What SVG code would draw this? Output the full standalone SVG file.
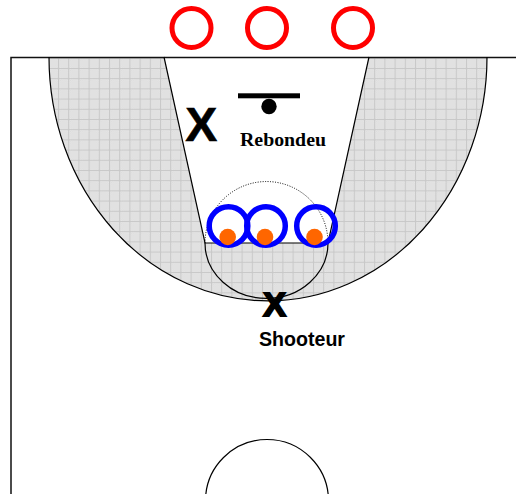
<svg xmlns="http://www.w3.org/2000/svg" width="516" height="494" viewBox="0 0 516 494">
<style>
.line{fill:none;stroke:#000;stroke-width:1.2}
.edge{fill:none;stroke:#111;stroke-width:1.500}
.red{fill:none;stroke:#f00;stroke-width:5}
.blue{fill:none;stroke:#00f;stroke-width:5.500}
.ball{fill:#f60}
.x{font-family:"Liberation Sans",Arial,sans-serif;font-weight:bold;fill:#000}
</style>
<defs>
<pattern id="fine" x="0" y="0" width="2" height="2" patternUnits="userSpaceOnUse">
<rect width="2" height="2" fill="#e6e6e6"/><rect width="1" height="1" fill="#dcdcdc"/><rect x="1" y="1" width="1" height="1" fill="#dcdcdc"/>
</pattern>
<pattern id="hatch" x="58" y="68" width="10.2" height="10.2" patternUnits="userSpaceOnUse">
<rect width="10.2" height="10.2" fill="url(#fine)"/>
<path d="M0.5 0V10.2M0 0.5H10.2" stroke="#c8c8c8" stroke-width="1" fill="none"/>
</pattern>
</defs>
<g id="court">
<rect width="516" height="494" fill="#fff"/>
<path d="M49 57A219 244 0 0 0 487 57H369L328 243H205L164 57Z" fill="url(#hatch)"/>
<path d="M11 494V57.500H516" class="edge"/>
<path d="M49 57A219 244 0 0 0 487 57" class="line"/>
<path d="M164 57L205 243H328L369 57" class="line"/>
<path d="M205 243A61 55 0 0 0 328 243" class="line"/>
<path d="M205 243A61 61 0 0 1 328 243" fill="none" stroke="#000" stroke-width="1" stroke-dasharray="1 1.500"/>
<circle cx="267" cy="501" r="61.500" class="line"/>
</g>
<g id="basket">
<rect x="238" y="93.300" width="62" height="5" fill="#000"/>
<circle cx="269" cy="106.500" r="7.700" fill="#000"/>
</g>
<g id="red-1"><circle cx="191.500" cy="28" r="19.500" class="red"/></g>
<g id="red-2"><circle cx="267" cy="28" r="19.500" class="red"/></g>
<g id="red-3"><circle cx="353" cy="28" r="19.500" class="red"/></g>
<g id="ball-1"><circle cx="228.500" cy="226" r="19.300" class="blue"/><circle cx="227.700" cy="237" r="8.300" class="ball"/></g>
<g id="ball-2"><circle cx="266" cy="226" r="19.300" class="blue"/><circle cx="265" cy="237" r="8.300" class="ball"/></g>
<g id="ball-3"><circle cx="316" cy="226" r="19.300" class="blue"/><circle cx="314.500" cy="237" r="8.300" class="ball"/></g>
<g id="rebounder">
<text x="201.200" y="141.300" text-anchor="middle" font-size="48" class="x" stroke="#000" stroke-width="0.6">X</text>
<text x="240" y="146" font-family="'Liberation Serif','Times New Roman',serif" font-weight="bold" font-size="19" textLength="86" lengthAdjust="spacingAndGlyphs" fill="#000">Rebondeu</text>
</g>
<g id="shooter">
<text x="274.500" y="316" text-anchor="middle" font-size="34" class="x" stroke="#000" stroke-width="2">X</text>
<text x="259" y="345.500" font-size="19.500" textLength="86" lengthAdjust="spacingAndGlyphs" class="x">Shooteur</text>
</g>
</svg>
